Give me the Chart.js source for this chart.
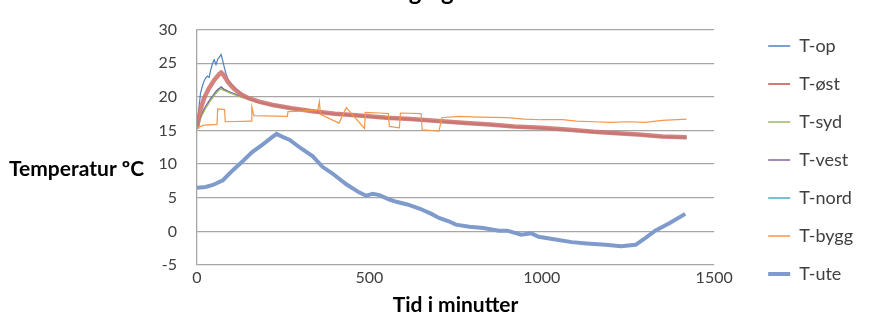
<!DOCTYPE html>
<html>
<head>
<meta charset="utf-8">
<script src="https://cdn.jsdelivr.net/npm/chart.js@4"></script>
<style>
  html, body { margin: 0; padding: 0; background: #fff; }
  #wrap { width: 879px; height: 321px; }
</style>
</head>
<body>
<div id="wrap"><canvas id="chart" width="879" height="321"></canvas></div>
<script>
// --- data ---
const chartTitle = 'Luftmåling og uteluften';
const yAxisTitle = 'Temperatur ºC';
const xAxisTitle = 'Tid i minutter';
const seriesNames = ['T-op', 'T-øst', 'T-syd', 'T-vest', 'T-nord', 'T-bygg', 'T-ute'];
const seriesColors = ['#4F81BD', '#C0504D', '#9BBB59', '#8064A2', '#4BACC6', '#F79646', '#7F9BCB'];

// shared time axis (minutes) for the five room sensors
const roomMinutes = [0, 5, 10, 15, 20, 25, 30, 35, 40, 45, 50, 55, 60, 65, 70, 75, 80, 85, 90, 95, 100,
  110, 120, 130, 150, 180, 220, 275, 330, 400, 480, 550, 620, 700, 780, 850, 920, 1000, 1080, 1150, 1220, 1280, 1350, 1420];

const tOp = [15.4, 18.0, 20.5, 21.5, 22.3, 22.8, 23.1, 22.9, 24.0, 25.0, 25.5, 24.8, 25.6, 25.9, 26.3, 25.3, 24.2, 23.3, 22.6, 22.2, 21.9,
  21.3, 20.8, 20.3, 19.8, 19.2, 18.7, 18.2, 17.8, 17.4, 17.1, 16.8, 16.6, 16.3, 16.0, 15.8, 15.5, 15.3, 15.0, 14.7, 14.5, 14.3, 14.0, 13.9];
const tOst = [15.3, 16.8, 18.0, 18.9, 19.7, 20.3, 20.8, 21.3, 21.7, 22.1, 22.5, 22.8, 23.1, 23.4, 23.6, 23.4, 23.0, 22.6, 22.2, 21.9, 21.6,
  21.1, 20.7, 20.3, 19.8, 19.3, 18.8, 18.3, 17.9, 17.5, 17.2, 16.9, 16.7, 16.4, 16.1, 15.9, 15.6, 15.4, 15.1, 14.8, 14.6, 14.4, 14.1, 14.0];
const tSyd = [15.2, 16.0, 16.7, 17.3, 17.8, 18.3, 18.7, 19.1, 19.5, 19.8, 20.2, 20.5, 20.8, 21.0, 21.2, 21.0, 20.9, 20.8, 20.7, 20.6, 20.5,
  20.3, 20.1, 19.9, 19.6, 19.1, 18.7, 18.2, 17.8, 17.4, 17.1, 16.8, 16.6, 16.3, 16.0, 15.8, 15.5, 15.3, 15.0, 14.7, 14.5, 14.3, 14.0, 13.9];
const tVest = [15.3, 16.2, 17.0, 17.6, 18.1, 18.6, 19.0, 19.4, 19.8, 20.1, 20.5, 20.8, 21.1, 21.3, 21.5, 21.3, 21.1, 21.0, 20.8, 20.7, 20.6,
  20.4, 20.2, 20.0, 19.7, 19.2, 18.8, 18.3, 17.9, 17.5, 17.2, 16.9, 16.7, 16.4, 16.1, 15.9, 15.6, 15.4, 15.1, 14.8, 14.6, 14.4, 14.1, 14.0];
const tNord = [15.2, 16.1, 16.9, 17.5, 18.0, 18.5, 18.9, 19.3, 19.7, 20.0, 20.4, 20.7, 21.0, 21.2, 21.4, 21.2, 21.0, 20.9, 20.8, 20.7, 20.6,
  20.4, 20.2, 20.0, 19.7, 19.2, 18.7, 18.2, 17.8, 17.4, 17.1, 16.8, 16.6, 16.3, 16.0, 15.8, 15.5, 15.3, 15.0, 14.7, 14.5, 14.3, 14.0, 13.9];

// building sensor (sawtooth steps)
const byggMinutes = [0, 20, 58, 60, 80, 82, 157, 159, 165, 262, 264, 350, 355, 358, 412, 433, 486, 488, 530, 555, 558, 587, 590, 650, 653,
  702, 710, 760, 820, 900, 950, 1000, 1060, 1100, 1150, 1200, 1250, 1300, 1350, 1420];
const tBygg = [15.4, 15.8, 15.9, 18.2, 18.1, 16.3, 16.4, 18.5, 17.2, 17.1, 17.8, 18.0, 19.3, 17.4, 16.1, 18.4, 15.3, 17.7, 17.6, 17.5, 15.6,
  15.4, 17.6, 17.5, 15.1, 14.9, 16.9, 17.1, 17.0, 16.9, 16.7, 16.6, 16.6, 16.4, 16.3, 16.2, 16.3, 16.2, 16.5, 16.7];

// outdoor temperature
const uteMinutes = [0, 25, 46, 75, 104, 130, 160, 190, 215, 231, 250, 269, 300, 335, 364, 393, 433, 470, 491, 510, 529, 560, 578, 610, 645,
  680, 702, 730, 751, 790, 830, 876, 900, 940, 970, 991, 1040, 1087, 1130, 1185, 1230, 1272, 1300, 1329, 1370, 1416];
const tUte = [6.5, 6.6, 6.9, 7.6, 9.1, 10.3, 11.8, 12.9, 13.9, 14.5, 14.0, 13.6, 12.4, 11.2, 9.6, 8.6, 7.0, 5.8, 5.3, 5.6, 5.4, 4.7, 4.4, 4.0, 3.4,
  2.6, 2.0, 1.5, 1.0, 0.7, 0.5, 0.1, 0.1, -0.5, -0.3, -0.8, -1.2, -1.6, -1.8, -2.0, -2.2, -2.0, -1.0, 0.1, 1.2, 2.6];

const xTicks = [0, 500, 1000, 1500];
const yTicks = [-5, 0, 5, 10, 15, 20, 25, 30];

function pairs(xs, ys) {
  return xs.map(function (x, i) { return { x: x, y: ys[i] }; });
}

function line(i, xs, ys, width, order, color) {
  return {
    label: seriesNames[i],
    data: pairs(xs, ys),
    borderColor: color || seriesColors[i],
    backgroundColor: seriesColors[i],
    borderWidth: width,
    pointRadius: 0,
    pointStyle: 'line',
    tension: 0,
    order: order
  };
}

Chart.defaults.font.family = 'Lato, "Open Sans", sans-serif';
Chart.defaults.color = '#404040';

// chart title (cut off at the top edge like in the picture) and horizontal y-axis title
const titlesPlugin = {
  id: 'titles',
  afterDraw(chart) {
    const ctx = chart.ctx;
    ctx.save();
    ctx.fillStyle = '#000';
    ctx.font = 'bold 24px Lato, sans-serif';
    ctx.textAlign = 'center';
    ctx.textBaseline = 'alphabetic';
    ctx.fillText(chartTitle, 433, -0.5);
    ctx.font = 'bold 21px Lato, sans-serif';
    ctx.textAlign = 'left';
    ctx.textBaseline = 'middle';
    ctx.fillText(yAxisTitle, 9, 169);
    ctx.restore();
  }
};

const ctx = document.getElementById('chart').getContext('2d');
new Chart(ctx, {
  type: 'line',
  data: {
    datasets: [
      line(0, roomMinutes, tOp, 1.2, 2),
      line(1, roomMinutes, tOst, 4.5, 1, 'rgba(208,118,113,0.9)'),
      line(2, roomMinutes, tSyd, 1.2, 3),
      line(3, roomMinutes, tVest, 1.2, 3),
      line(4, roomMinutes, tNord, 1.2, 3),
      line(5, byggMinutes, tBygg, 1.2, 0),
      line(6, uteMinutes, tUte, 4, 0)
    ]
  },
  options: {
    responsive: false,
    animation: false,
    layout: { padding: { top: 17, right: 16 } },
    plugins: {
      title: { display: false },
      legend: {
        position: 'right',
        align: 'start',
        labels: {
          usePointStyle: true,
          pointStyleWidth: 22,
          padding: 20,
          font: { size: 18 },
          color: '#404040',
          sort: function (a, b) { return a.datasetIndex - b.datasetIndex; },
          generateLabels: function (chart) {
            const items = Chart.defaults.plugins.legend.labels.generateLabels(chart);
            items.forEach(function (item) {
              item.strokeStyle = seriesColors[item.datasetIndex];
              item.lineWidth = item.datasetIndex === 6 ? 4 : 1.5;
            });
            return items;
          }
        }
      },
      tooltip: { enabled: false }
    },
    scales: {
      x: {
        type: 'linear',
        min: 0,
        max: 1500,
        afterBuildTicks: function (scale) { scale.ticks = xTicks.map(function (v) { return { value: v }; }); },
        afterFit: function (scale) { scale.height = 56; },
        ticks: {
          font: { size: 16 },
          padding: 3,
          maxRotation: 0,
          autoSkip: false,
          callback: function (v) { return String(v); }
        },
        grid: { display: false, drawTicks: false },
        border: { display: false },
        title: {
          display: true,
          text: xAxisTitle,
          color: '#000',
          font: { size: 21, weight: 'bold' },
          padding: { top: 0, bottom: 3 }
        }
      },
      y: {
        min: -5,
        max: 30,
        afterBuildTicks: function (scale) { scale.ticks = yTicks.map(function (v) { return { value: v }; }); },
        afterFit: function (scale) { scale.width = 197; },
        ticks: { font: { size: 16 }, padding: 20 },
        grid: { color: '#A6A6A6', lineWidth: 1.3, drawTicks: false },
        border: { display: true, color: '#A6A6A6', width: 1.3 }
      },
      spacer: {
        axis: 'y',
        position: 'right',
        display: true,
        afterFit: function (scale) { scale.width = 34; },
        ticks: { display: false },
        grid: { display: false, drawTicks: false },
        border: { display: false }
      }
    }
  },
  plugins: [titlesPlugin]
});
</script>
</body>
</html>
